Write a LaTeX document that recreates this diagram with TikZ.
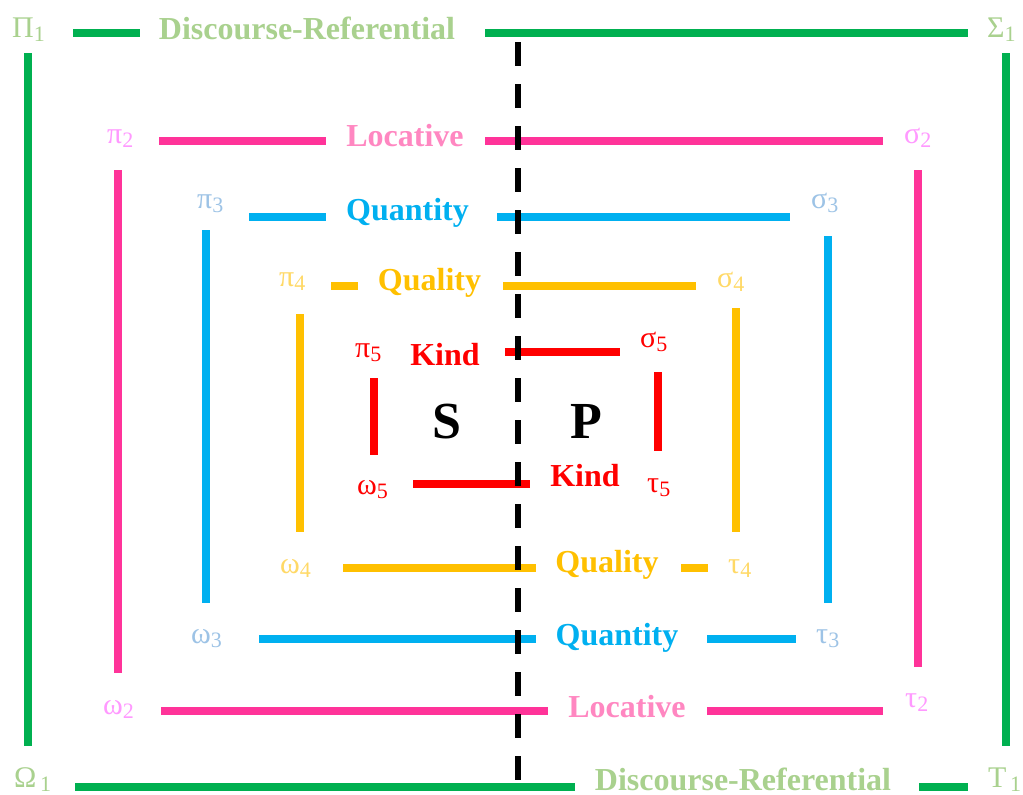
\documentclass[tikz,border=0pt]{standalone}
\usepackage{fontspec}
\setmainfont{Liberation Serif}
\definecolor{gline}{HTML}{00B050}
\definecolor{gtext}{HTML}{A9D18E}
\definecolor{pline}{HTML}{FF3399}
\definecolor{ptext}{HTML}{FF87C1}
\definecolor{plab}{HTML}{FF99FF}
\definecolor{bline}{HTML}{00B0F0}
\definecolor{blab}{HTML}{9DC3E6}
\definecolor{yline}{HTML}{FFC000}
\definecolor{ylab}{HTML}{FFD966}
\definecolor{rline}{HTML}{FF0000}
\newcommand{\gsub}[2]{#1\raisebox{-4pt}{\fontsize{22}{22}\selectfont #2}}
\begin{document}
\begin{tikzpicture}[x=1pt,y=-1pt,
  ln/.style={line width=8pt, line cap=butt},
  word/.style={font=\fontsize{32}{38}\selectfont\bfseries, anchor=base, inner sep=0pt},
  glab/.style={font=\fontsize{30}{34}\selectfont, anchor=base west, inner sep=0pt},
  big/.style={font=\fontsize{52}{60}\selectfont\bfseries, anchor=base, inner sep=0pt}]
\useasboundingbox[fill=white] (0,0) rectangle (1023,795);

% ---------- green (level 1)
\draw[ln,gline] (73,32.5) -- (140,32.5);
\draw[ln,gline] (485,32.5) -- (968,32.5);
\draw[ln,gline] (28,53) -- (28,746);
\draw[ln,gline] (1006,53) -- (1006,746);
\draw[ln,gline] (75,787) -- (575,787);
\draw[ln,gline] (919,787) -- (968,787);
\node[word,text=gtext] (dr1) at (307,39) {Discourse-Referential};
\node[word,text=gtext] (dr2) at (743,790) {Discourse-Referential};
\node[glab,text=gtext] (P1) at (12,37) {\gsub{Π}{1}};
\node[glab,text=gtext] (S1) at (987,37) {\gsub{Σ}{1}};
\node[glab,text=gtext] (O1) at (14,787) {\gsub{Ω}{\,1}};
\node[glab,text=gtext] (T1) at (988,787) {\gsub{Τ}{\,1}};

% ---------- pink (level 2)
\draw[ln,pline] (159,140.5) -- (326,140.5);
\draw[ln,pline] (485,140.5) -- (883,140.5);
\draw[ln,pline] (118,170) -- (118,673);
\draw[ln,pline] (918,170) -- (918,667);
\draw[ln,pline] (161,711) -- (548,711);
\draw[ln,pline] (707,711) -- (883,711);
\node[word,text=ptext] (loc1) at (405,146) {Locative};
\node[word,text=ptext] (loc2) at (627,717) {Locative};
\node[glab,text=plab] (p2) at (107,143) {\gsub{π}{2}};
\node[glab,text=plab] (s2) at (904,143) {\gsub{σ}{2}};
\node[glab,text=plab] (o2) at (103,714) {\gsub{ω}{2}};
\node[glab,text=plab] (t2) at (905,707) {\gsub{τ}{2}};

% ---------- blue (level 3)
\draw[ln,bline] (249,216.5) -- (326,216.5);
\draw[ln,bline] (497,216.5) -- (790,216.5);
\draw[ln,bline] (206,230) -- (206,603);
\draw[ln,bline] (828,236) -- (828,603);
\draw[ln,bline] (259,639) -- (536,639);
\draw[ln,bline] (707,639) -- (796,639);
\node[word,text=bline] (qn1) at (407.5,220) {Quantity};
\node[word,text=bline] (qn2) at (617,645) {Quantity};
\node[glab,text=blab] (p3) at (197,208) {\gsub{π}{3}};
\node[glab,text=blab] (s3) at (811,208) {\gsub{σ}{3}};
\node[glab,text=blab] (o3) at (191,643) {\gsub{ω}{3}};
\node[glab,text=blab] (t3) at (816,643) {\gsub{τ}{3}};

% ---------- yellow (level 4)
\draw[ln,yline] (331,286) -- (358,286);
\draw[ln,yline] (503,286) -- (696,286);
\draw[ln,yline] (300,314) -- (300,532);
\draw[ln,yline] (736,308) -- (736,532);
\draw[ln,yline] (343,568) -- (536,568);
\draw[ln,yline] (681,568) -- (708,568);
\node[word,text=yline] (ql1) at (429.5,290) {Quality};
\node[word,text=yline] (ql2) at (607,572) {Quality};
\node[glab,text=ylab] (p4) at (279,286) {\gsub{π}{4}};
\node[glab,text=ylab] (s4) at (717,287) {\gsub{σ}{4}};
\node[glab,text=ylab] (o4) at (280,573) {\gsub{ω}{4}};
\node[glab,text=ylab] (t4) at (728,573) {\gsub{τ}{4}};

% ---------- red (level 5)
\draw[ln,rline] (505,352) -- (620,352);
\draw[ln,rline] (374,378) -- (374,455);
\draw[ln,rline] (658,372) -- (658,451);
\draw[ln,rline] (413,484) -- (530,484);
\node[word,text=rline] (k1) at (445,365) {Kind};
\node[word,text=rline] (k2) at (585,486) {Kind};
\node[glab,text=rline] (p5) at (355,357) {\gsub{π}{5}};
\node[glab,text=rline] (s5) at (640,347) {\gsub{σ}{5}};
\node[glab,text=rline] (o5) at (357,494) {\gsub{ω}{5}};
\node[glab,text=rline] (t5) at (647,492) {\gsub{τ}{5}};

% ---------- S and P
\node[big] (S) at (446.5,438) {S};
\node[big] (P) at (586,438) {P};

% ---------- dashed divider
\coordinate (dtop) at (518,42);
\coordinate (dbot) at (518,780);
\draw[line width=6pt, line cap=butt, dash pattern=on 24pt off 18pt] (dtop) -- (dbot);
\end{tikzpicture}
\end{document}
